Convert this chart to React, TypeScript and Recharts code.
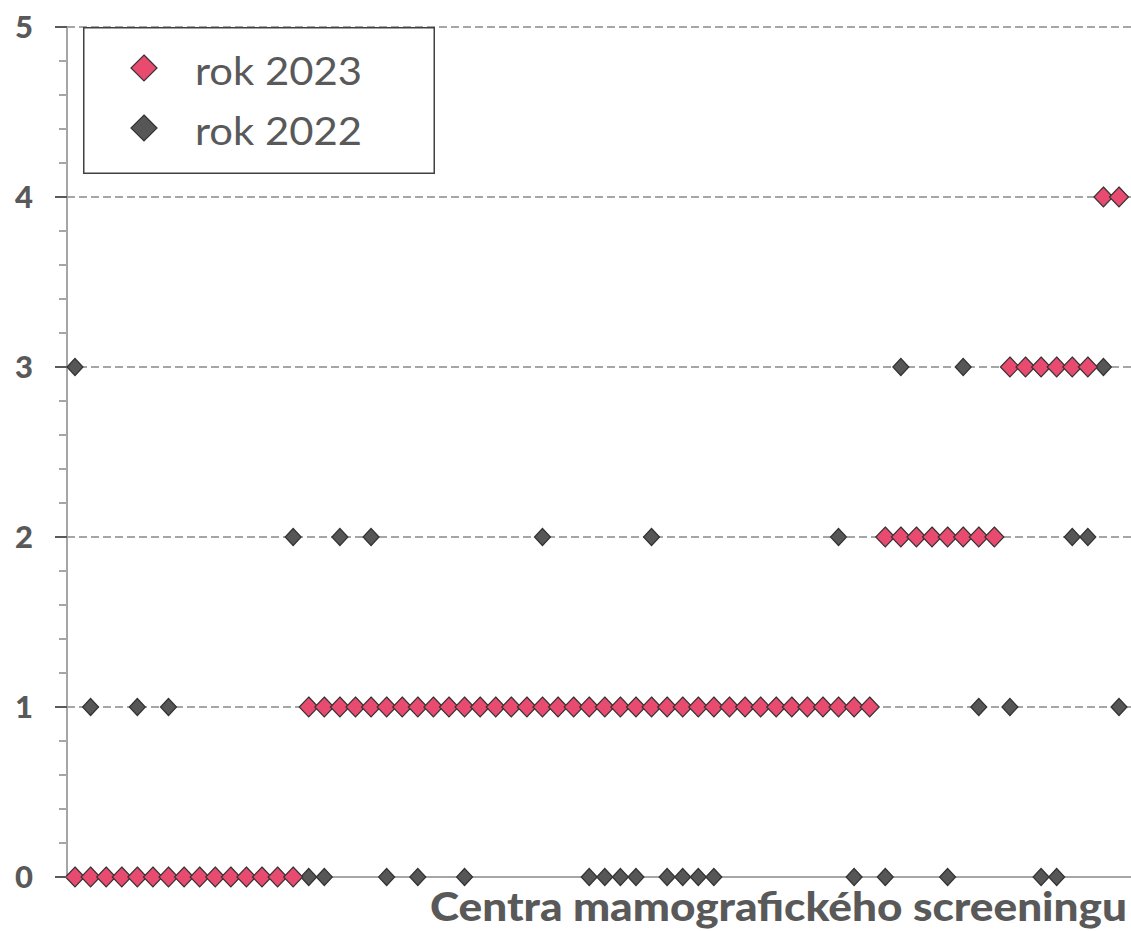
import React from 'react';
import { ComposedChart, Line, XAxis, YAxis, ReferenceLine, Legend } from 'recharts';

// počet center v jednotlivých letech (seřazeno podle roku 2023)
const ROK_2023 = [
  0, 0, 0, 0, 0, 0, 0, 0, 0, 0, 0, 0, 0, 0, 0,
  1, 1, 1, 1, 1, 1, 1, 1, 1, 1, 1, 1, 1, 1, 1, 1, 1, 1, 1,
  1, 1, 1, 1, 1, 1, 1, 1, 1, 1, 1, 1, 1, 1, 1, 1, 1, 1,
  2, 2, 2, 2, 2, 2, 2, 2,
  3, 3, 3, 3, 3, 3,
  4, 4,
];

const ROK_2022 = [
  3, 1, 0, 0, 1, 0, 1, 0, 0, 0,
  0, 0, 0, 0, 2, 0, 0, 2, 1, 2,
  0, 1, 0, 1, 1, 0, 1, 1, 1, 1,
  2, 1, 1, 0, 0, 0, 0, 2, 0, 0,
  0, 0, 1, 1, 1, 1, 1, 1, 1, 2,
  0, 1, 0, 3, 2, 2, 0, 3, 1, 2,
  1, 3, 0, 0, 2, 2, 3, 1,
];

const Y_MAJOR = [0, 1, 2, 3, 4, 5];
const Y_MINOR = [
  0.2, 0.4, 0.6, 0.8, 1.2, 1.4, 1.6, 1.8, 2.2, 2.4, 2.6, 2.8,
  3.2, 3.4, 3.6, 3.8, 4.2, 4.4, 4.6, 4.8,
];
const GRID_LINES = [1, 2, 3, 4, 5];

const SERIES = [
  { key: 'r2023', name: 'rok 2023', color: '#E94A6F' },
  { key: 'r2022', name: 'rok 2022', color: '#565656' },
];

const CENTRA = ROK_2023.map((_, i) => `C${i + 1}`);
const data = CENTRA.map((c, i) => ({ c, r2023: ROK_2023[i], r2022: ROK_2022[i] }));

const FONT = 'Lato, "Open Sans", sans-serif';
const TEXT = '#595959';
const AXIS = '#A6A6A6';
const AXIS_X = 67;

const diamondPath = (cx: number, cy: number, rx: number, ry: number) =>
  `M${cx},${cy - ry}L${cx + rx},${cy}L${cx},${cy + ry}L${cx - rx},${cy}Z`;

const makeDot = (fill: string, rx: number, ry: number) => (props: any) => {
  const { cx, cy, index } = props;
  if (cx == null || cy == null) return <g key={`d-${index}`} />;
  return (
    <path
      key={`d-${index}`}
      d={diamondPath(cx, cy, rx, ry)}
      fill={fill}
      stroke="#333333"
      strokeWidth={1.2}
    />
  );
};

const YTick = (props: any) => {
  const { y, payload } = props;
  const major = Number.isInteger(payload.value);
  return (
    <g>
      <line
        x1={AXIS_X - (major ? 12 : 8)}
        x2={AXIS_X}
        y1={y}
        y2={y}
        stroke={major ? TEXT : AXIS}
        strokeWidth={2}
      />
      {major && (
        <text
          x={33}
          y={y + 11}
          textAnchor="end"
          fontFamily={FONT}
          fontWeight={900}
          fontSize={31}
          fill={TEXT}
        >
          {payload.value}
        </text>
      )}
    </g>
  );
};

const XTitle = () => (
  <text
    x={430}
    y={921}
    fontFamily={FONT}
    fontWeight={900}
    fontSize={39}
    fill={TEXT}
    textLength={697}
    lengthAdjust="spacingAndGlyphs"
  >
    Centra mamografického screeningu
  </text>
);

const LegendBox = () => (
  <svg width={352} height={147} style={{ display: 'block' }}>
    <rect x={0.75} y={0.75} width={350.5} height={145.5} fill="#fff" stroke="#404040" strokeWidth={1.5} />
    {SERIES.map((s, i) => (
      <g key={s.key}>
        <path d={diamondPath(61, 41 + i * 60, 13, 13)} fill={s.color} stroke="#333333" strokeWidth={1.2} />
        <text
          x={112}
          y={58 + i * 60}
          fontFamily={FONT}
          fontSize={39}
          fill={TEXT}
          textLength={167}
          lengthAdjust="spacingAndGlyphs"
        >
          {s.name}
        </text>
      </g>
    ))}
  </svg>
);

export default function App() {
  return (
    <div style={{ position: 'absolute', left: 0, top: 0, width: 1131, height: 931, background: '#fff' }}>
      <ComposedChart
        width={1131}
        height={931}
        data={data}
        margin={{ top: 27, right: 0, bottom: 0, left: 0 }}
      >
        {GRID_LINES.map((v) => (
          <ReferenceLine
            key={v}
            y={v}
            stroke={AXIS}
            strokeWidth={2}
            strokeDasharray="8 4"
          />
        ))}
        <XAxis
          dataKey="c"
          height={54}
          tick={false}
          tickLine={false}
          axisLine={{ stroke: AXIS, strokeWidth: 2 }}
          padding={{ left: 8, right: 12 }}
          label={<XTitle />}
        />
        <YAxis
          type="number"
          domain={[0, 5]}
          ticks={[...Y_MAJOR, ...Y_MINOR]}
          interval={0}
          width={AXIS_X}
          tickLine={false}
          axisLine={{ stroke: AXIS, strokeWidth: 2 }}
          tick={<YTick />}
        />
        <Legend
          layout="vertical"
          align="center"
          verticalAlign="middle"
          wrapperStyle={{ left: 83, top: 27, width: 352, height: 147 }}
          content={() => <LegendBox />}
        />
        <Line
          dataKey="r2022"
          name="rok 2022"
          stroke="none"
          dot={makeDot(SERIES[1].color, 8, 8.5)}
          activeDot={false}
          isAnimationActive={false}
        />
        <Line
          dataKey="r2023"
          name="rok 2023"
          stroke="none"
          dot={makeDot(SERIES[0].color, 9.5, 10)}
          activeDot={false}
          isAnimationActive={false}
        />
      </ComposedChart>
    </div>
  );
}
